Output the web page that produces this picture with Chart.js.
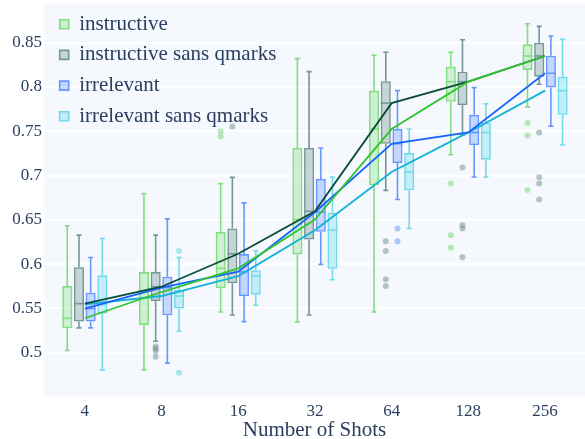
<!DOCTYPE html>
<html><head><meta charset="utf-8">
<script src="https://cdn.jsdelivr.net/npm/chart.js@4/dist/chart.umd.min.js"></script>
<style>html,body{margin:0;padding:0;background:#fff}#wrap{width:585px;height:439px;position:relative}</style>
</head><body><div id="wrap"><canvas id="c"></canvas></div>
<script>
// ---- data ----
const shots = ['4','8','16','32','64','128','256'];
const seriesNames = ['instructive','instructive sans qmarks','irrelevant','irrelevant sans qmarks'];

const instrLow  = [0.5025,0.4806,0.5460,0.5347,0.5460,0.7235,0.7776];
const instrQ1   = [0.5276,0.5313,0.5730,0.6109,0.6890,0.7832,0.8193];
const instrMed  = [0.5389,0.5685,0.5952,0.6503,0.7525,0.8060,0.8350];
const instrQ3   = [0.5752,0.5910,0.6365,0.7311,0.7959,0.8230,0.8482];
const instrHigh = [0.6434,0.6796,0.6909,0.8320,0.8358,0.8392,0.8714];
const instrOut  = [[],[],[0.7498,0.7441],[],[],[0.6909,0.6327,0.6185],[0.7592,0.7453,0.6838]];

const instrSqLow  = [0.5280,0.5130,0.5426,0.5426,0.6833,0.7460,0.8031];
const instrSqQ1   = [0.5351,0.5583,0.5783,0.6278,0.7359,0.7795,0.8117];
const instrSqMed  = [0.5554,0.5745,0.6117,0.6597,0.7818,0.8060,0.8350];
const instrSqQ3   = [0.5966,0.5910,0.6402,0.7311,0.8065,0.8173,0.8500];
const instrSqHigh = [0.6327,0.6327,0.6980,0.8173,0.8392,0.8534,0.8684];
const instrSqOut  = [[],[0.5070,0.5045,0.5020,0.4953],[0.7554],[],[0.6259,0.6147,0.5828,0.5752],[0.7092,0.6440,0.6402,0.6079],[0.7487,0.6980,0.6909,0.6729]];

const irrLow  = [0.5280,0.4882,0.5351,0.5997,0.6729,0.6984,0.7558];
const irrQ1   = [0.5351,0.5422,0.5640,0.6365,0.7142,0.7345,0.7993];
const irrMed  = [0.5498,0.5734,0.5914,0.6586,0.7359,0.7487,0.8155];
const irrQ3   = [0.5678,0.5858,0.6113,0.6962,0.7525,0.7686,0.8354];
const irrHigh = [0.6075,0.6511,0.6692,0.7311,0.7959,0.7993,0.8575];
const irrOut  = [[],[],[],[],[0.6402,0.6259],[],[]];

const irrSqLow  = [0.4806,0.5242,0.5535,0.5824,0.6402,0.6984,0.7345];
const irrSqQ1   = [0.5442,0.5498,0.5655,0.5948,0.6833,0.7179,0.7686];
const irrSqMed  = [0.5546,0.5640,0.5865,0.6383,0.7040,0.7487,0.7959];
const irrSqQ3   = [0.5873,0.5707,0.5932,0.6579,0.7254,0.7596,0.8117];
const irrSqHigh = [0.6289,0.6075,0.6151,0.6984,0.7525,0.7810,0.8538];
const irrSqOut  = [[],[0.6147,0.4773],[],[],[],[],[]];

const yTicks = [0.5,0.55,0.6,0.65,0.7,0.75,0.8,0.85];

// ---- styles ----
const edgeColors = ['rgb(128,221,128)','rgb(118,152,148)','rgb(104,152,255)','rgb(112,218,234)'];
const fillColors = ['rgba(140,226,140,0.38)','rgba(118,152,152,0.38)','rgba(112,160,255,0.38)','rgba(112,220,236,0.38)'];
const dotColors  = ['rgba(140,220,140,0.6)','rgba(120,152,148,0.55)','rgba(112,156,255,0.55)','rgba(112,218,236,0.6)'];
const lineColors = ['#31c531','#0a4c3a','#1663ff','#13b2d6'];
const FONT = "'Liberation Serif','Times New Roman',serif";
const TXT = '#2a3f5f';

const stats = [
  {low:instrLow, q1:instrQ1, med:instrMed, q3:instrQ3, high:instrHigh, out:instrOut},
  {low:instrSqLow, q1:instrSqQ1, med:instrSqMed, q3:instrSqQ3, high:instrSqHigh, out:instrSqOut},
  {low:irrLow, q1:irrQ1, med:irrMed, q3:irrQ3, high:irrHigh, out:irrOut},
  {low:irrSqLow, q1:irrSqQ1, med:irrSqMed, q3:irrSqQ3, high:irrSqHigh, out:irrSqOut}
];

const boxDatasets = stats.map((s, k) => ({
  type: 'bar',
  label: seriesNames[k],
  data: shots.map((_, i) => ({x: i, y: [s.q1[i], s.q3[i]]})),
  backgroundColor: fillColors[k],
  borderColor: edgeColors[k],
  borderWidth: 1.6,
  borderSkipped: false,
  categoryPercentage: 0.61,
  barPercentage: 0.86,
  order: 2
}));
const lineDatasets = stats.map((s, k) => ({
  type: 'line',
  label: seriesNames[k] + ' median',
  data: shots.map((_, i) => ({x: i, y: s.med[i]})),
  borderColor: lineColors[k],
  borderWidth: 1.8,
  pointRadius: 0,
  fill: false,
  tension: 0,
  order: 1
}));

const bgPlugin = {
  id: 'plotBg',
  beforeDraw(chart) {
    const {ctx, chartArea: a} = chart;
    ctx.save();
    ctx.fillStyle = '#f5f8fd';
    ctx.fillRect(a.left, a.top, a.right - a.left, a.bottom - a.top);
    ctx.restore();
  },
  afterLayout(chart) {
    if (chart.legend) {
      chart.legend.left = chart.chartArea.left + 6;
      chart.legend.top = 4;
    }
  }
};

const boxParts = {
  id: 'boxParts',
  beforeDatasetsDraw(chart) {
    const ctx = chart.ctx, ys = chart.scales.y;
    stats.forEach((s, k) => {
      const meta = chart.getDatasetMeta(k);
      ctx.save();
      ctx.strokeStyle = edgeColors[k];
      ctx.lineWidth = 1.6;
      meta.data.forEach((el, i) => {
        const x = el.x, cw = el.width * 0.25;
        const yh = ys.getPixelForValue(s.high[i]), y3 = ys.getPixelForValue(s.q3[i]);
        const y1 = ys.getPixelForValue(s.q1[i]), yl = ys.getPixelForValue(s.low[i]);
        ctx.beginPath();
        ctx.moveTo(x, yh); ctx.lineTo(x, y3);
        ctx.moveTo(x, y1); ctx.lineTo(x, yl);
        ctx.moveTo(x - cw, yh); ctx.lineTo(x + cw, yh);
        ctx.moveTo(x - cw, yl); ctx.lineTo(x + cw, yl);
        ctx.stroke();
      });
      ctx.restore();
    });
  },
  afterDatasetDraw(chart, args) {
    const k = args.index;
    if (k > 3) return;
    const ctx = chart.ctx, ys = chart.scales.y, s = stats[k];
    ctx.save();
    args.meta.data.forEach((el, i) => {
      const x = el.x, hw = el.width / 2;
      const ym = ys.getPixelForValue(s.med[i]);
      ctx.strokeStyle = edgeColors[k];
      ctx.lineWidth = 1.6;
      ctx.beginPath(); ctx.moveTo(x - hw, ym); ctx.lineTo(x + hw, ym); ctx.stroke();
      ctx.fillStyle = dotColors[k];
      s.out[i].forEach(v => {
        ctx.beginPath();
        ctx.arc(x, ys.getPixelForValue(v), 3, 0, Math.PI * 2);
        ctx.fill();
      });
    });
    ctx.restore();
  }
};

new Chart(document.getElementById('c'), {
  type: 'bar',
  data: { datasets: [...boxDatasets, ...lineDatasets] },
  options: {
    responsive: true,
    maintainAspectRatio: false,
    animation: false,
    layout: { padding: { top: 4, right: 0, bottom: 0, left: 0 } },
    plugins: {
      tooltip: { enabled: false },
      legend: {
        position: 'chartArea',
        align: 'start',
        labels: {
          filter: item => item.datasetIndex < 4,
          boxWidth: 9, boxHeight: 9,
          padding: 9.7,
          color: TXT,
          font: { family: FONT, size: 21 }
        }
      }
    },
    scales: {
      x: {
        type: 'linear',
        offset: false,
        min: -0.532, max: 6.521,
        afterBuildTicks: ax => { ax.ticks = shots.map((_, i) => ({value: i})); },
        afterFit: ax => { ax.height = 43; ax.paddingLeft = 0; ax.paddingRight = 0; },
        grid: { display: false, offset: false },
        border: { display: false },
        ticks: {
          callback: v => shots[v],
          color: TXT, padding: -3,
          font: { family: FONT, size: 17 },
          maxRotation: 0, autoSkip: false
        },
        title: {
          display: true, text: 'Number of Shots', color: TXT,
          font: { family: FONT, size: 21, lineHeight: 1.0 },
          padding: { top: 0, bottom: -2 }
        }
      },
      y: {
        type: 'linear',
        min: 0.4511, max: 0.8937,
        afterBuildTicks: ax => { ax.ticks = yTicks.map(v => ({value: v})); },
        afterFit: ax => { ax.width = 44; ax.paddingTop = 0; ax.paddingBottom = 0; },
        grid: { color: '#ffffff', lineWidth: 2, drawTicks: false },
        border: { display: false },
        ticks: {
          color: TXT, padding: 2,
          font: { family: FONT, size: 17 },
          callback: v => String(v)
        }
      }
    }
  },
  plugins: [bgPlugin, boxParts]
});
</script>
</body></html>
